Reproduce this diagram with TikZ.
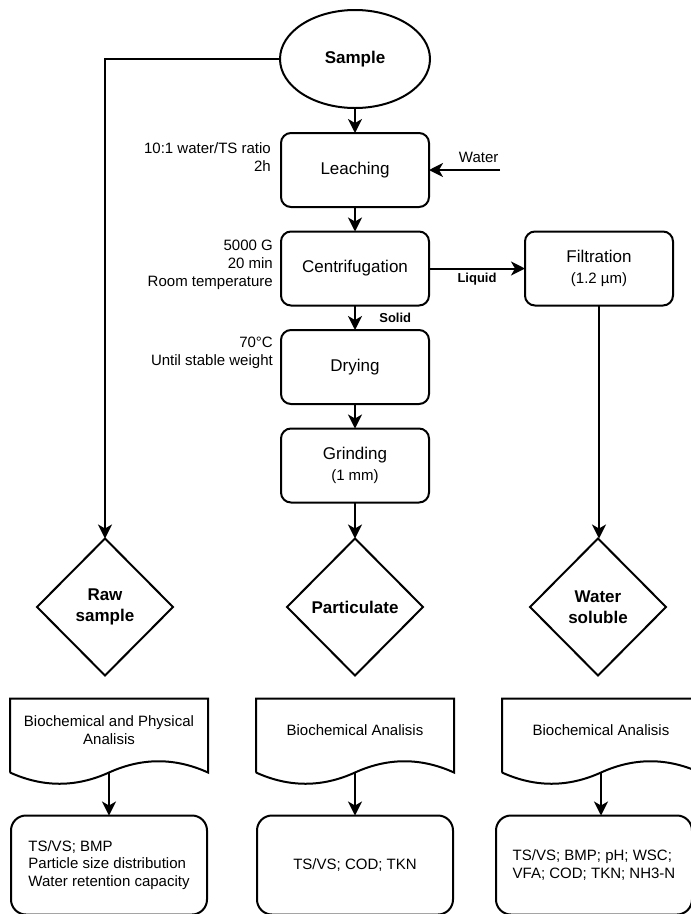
\documentclass[tikz,border=0pt]{standalone}
\usepackage{fontspec}
\setmainfont{Liberation Sans}
\usepackage{tikz}
\usetikzlibrary{positioning,arrows.meta,shapes.geometric}

\newcommand{\boxfont}{\fontsize{17}{21}\selectfont}
\newcommand{\notefont}{\fontsize{15}{18}\selectfont}
\newcommand{\tagfont}{\fontsize{13}{15}\selectfont\bfseries}

\begin{document}
\begin{tikzpicture}[
x=1pt, y=1pt,
node distance=24.5pt,
wire/.style={line width=2pt, black},
arrow/.style={wire, -{Stealth[length=14pt, width=14pt, inset=4pt]}},
start/.style={ellipse, draw, line width=2pt, outer sep=0pt, minimum width=150pt, minimum height=98pt, inner sep=0pt, font=\boxfont\bfseries},
proc/.style={draw, line width=2pt, outer sep=0pt, rounded corners=10pt, minimum width=148pt, minimum height=74pt, align=center, font=\boxfont},
decis/.style={diamond, draw, line width=2pt, outer sep=0pt, minimum width=136pt, minimum height=137pt, inner sep=0pt, align=center, font=\boxfont\bfseries},
docu/.style={minimum width=198pt, minimum height=64pt, inner sep=0pt, outer sep=0pt, align=center, font=\notefont},
result/.style={draw, line width=2pt, outer sep=0pt, rounded corners=15pt, minimum width=196pt, minimum height=99pt, align=left, font=\fontsize{15}{17.5}\selectfont},
cond/.style={inner sep=0pt, align=right, font=\notefont}
]
\useasboundingbox (0,0) rectangle (691,-914);

% main line
\node[start] (sample) at (355,-59) {Sample};
\node[proc, below=25pt of sample] (leach) {Leaching};
\node[proc, below=of leach] (centr) {Centrifugation};
\node[proc, below=of centr] (dry) {Drying};
\node[proc, below=of dry] (grind) {Grinding\\{\notefont (1 mm)}};
\node[proc, right=96pt of centr] (filt) {Filtration\\{\notefont (1.2 µm)}};

% conditions
\node[cond, left=10pt of leach.north west, anchor=north east, yshift=-9pt] (leachc) {10:1 water/TS ratio\\2h};
\node[cond, left=8pt of centr.north west, anchor=north east, yshift=-8pt] (centrc) {5000 G\\20 min\\Room temperature};
\node[cond, left=8pt of dry.north west, anchor=north east, yshift=-7pt] (dryc) {70°C\\Until stable weight};
\coordinate[right=71pt of leach] (water);

% fractions
\node[decis, below=36pt of grind] (part) {Particulate};
\node[decis, left=114pt of part] (raw) {Raw\\sample};
\node[decis, right=107pt of part] (sol) {Water\\soluble};

% analyses
\node[docu, below=23pt of raw, xshift=4pt] (docA) {Biochemical and Physical\\Analisis};
\node[docu, below=23pt of part] (docB) {Biochemical Analisis};
\node[docu, below=23pt of sol, xshift=3pt] (docC) {Biochemical Analisis};
\node[result, below=53pt of docA] (resA) {TS/VS; BMP\\Particle size distribution\\Water retention capacity};
\node[result, below=53pt of docB] (resB) {TS/VS; COD; TKN};
\node[result, below=53pt of docC, xshift=-7pt] (resC) {TS/VS; BMP; pH; WSC;\\VFA; COD; TKN; NH3-N};

\foreach \d in {docA,docB,docC}
  \draw[wire] ([yshift=-10pt]\d.south west) -- (\d.north west) -- (\d.north east) -- ([yshift=-10pt]\d.south east)
    .. controls +(-33,15) and +(33,15) .. ([yshift=-10pt]\d.south)
    .. controls +(-33,-15) and +(33,-15) .. ([yshift=-10pt]\d.south west);

% connectors
\draw[arrow] (sample) -- (leach);
\draw[arrow] (water) -- node[above, pos=0.3, inner sep=6pt, font=\notefont] {Water} (leach);
\draw[arrow] (leach) -- (centr);
\draw[arrow] (centr) -- node[midway, right=20pt, font=\tagfont] {Solid} (dry);
\draw[arrow] (centr) -- node[midway, below, inner sep=4pt, font=\tagfont] {Liquid} (filt);
\draw[arrow] (dry) -- (grind);
\draw[arrow] (grind) -- (part);
\draw[arrow] (sample.west) -| (raw.north);
\draw[arrow] (filt.south) -- (filt.south |- sol.north);
\draw[arrow] ([yshift=-10pt]docA.south) -- (resA.north);
\draw[arrow] ([yshift=-10pt]docB.south) -- (docB.south |- resB.north);
\draw[arrow] ([yshift=-10pt]docC.south) -- (docC.south |- resC.north);
\end{tikzpicture}
\end{document}
